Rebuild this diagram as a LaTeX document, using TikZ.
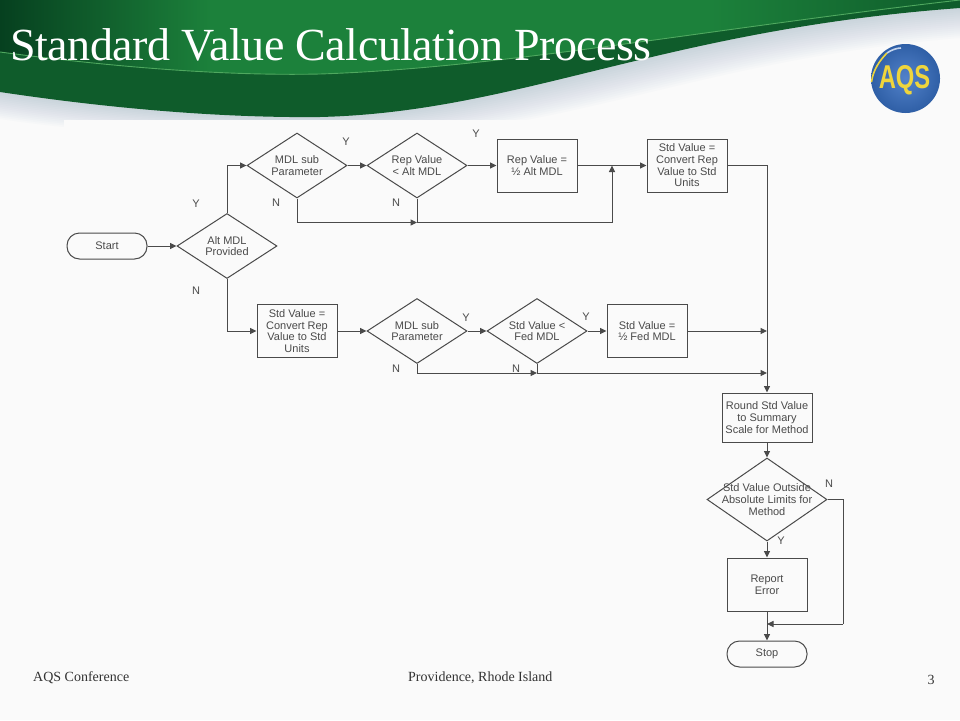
\documentclass[tikz,border=0pt]{standalone}
\usepackage{fontspec}
\setmainfont{Liberation Serif}
\setsansfont{Liberation Sans}
\usetikzlibrary{shapes.geometric,arrows.meta}
\definecolor{swooshdeep}{HTML}{06401F}
\definecolor{swooshdark}{HTML}{0F5C2B}
\definecolor{swooshlight}{HTML}{1C813B}
\definecolor{swooshline}{HTML}{4FA85F}
\definecolor{swooshshadow}{HTML}{8FA6BE}
\definecolor{pagegray}{HTML}{FAFAFA}
\definecolor{flowline}{HTML}{4A4A4A}
\definecolor{logoblue}{HTML}{3F74C4}
\definecolor{logodeep}{HTML}{2F5FA6}
\definecolor{logogold}{HTML}{EFD53C}
\pgfdeclarehorizontalshading{bandshade}{100bp}{color(0bp)=(swooshdeep); color(25bp)=(swooshdeep); color(36bp)=(swooshlight); color(62bp)=(swooshlight); color(75bp)=(swooshdark); color(100bp)=(swooshdark)}
\tikzset{
  flowfont/.style={font=\sffamily\fontsize{11}{11.7}\selectfont,text=flowline},
  decision/.style={draw=flowline,line width=1pt,diamond,aspect=1.54,minimum width=100pt,minimum height=65pt,inner xsep=-15pt,inner ysep=-8pt,align=center,flowfont},
  process/.style={draw=flowline,line width=1pt,rectangle,minimum width=80pt,minimum height=53pt,inner sep=0pt,align=center,flowfont},
  terminal/.style={draw=flowline,line width=1pt,rectangle,rounded corners=12.5pt,minimum width=80pt,minimum height=26pt,inner sep=0pt,flowfont},
  flow/.style={draw=flowline,line width=1pt,-{Triangle[length=6.5pt,width=6pt]}},
  plain/.style={draw=flowline,line width=1pt},
  branch/.style={flowfont,inner sep=0pt},
  footer/.style={inner sep=0pt,font=\fontsize{14}{16}\selectfont,text=black!80},
}
\begin{document}
\begin{tikzpicture}[x=1pt,y=-1pt]
  \useasboundingbox (0,0) rectangle (960,720);
  \fill[pagegray] (0,0) rectangle (960,720);
  % swoosh shadow
  \foreach \off in {2,4,...,30}{
    \fill[swooshshadow,opacity=0.032] (0,92+0.9*\off) .. controls (120,110+0.9*\off) and (230,118+0.6*\off) .. (320+\off,117+0.6*\off)
      .. controls (520+\off,112+\off) and (660+\off,30+\off) .. (960,8+\off) -- (960,0) -- (0,0) -- cycle;
  }
  \fill[pagegray] (64,120) rectangle (880,670);
  % swoosh
  \fill[swooshdark] (0,92) .. controls (120,110) and (230,118) .. (320,117)
    .. controls (520,112) and (660,30) .. (960,8) -- (960,0) -- (0,0) -- cycle;
  \shade[shading=bandshade] (0,52) .. controls (120,68) and (230,76) .. (320,74)
    .. controls (500,68) and (700,30) .. (960,0) -- (0,0) -- cycle;
  \draw[swooshline,line width=0.9pt] (0,52) .. controls (120,68) and (230,76) .. (320,74)
    .. controls (500,68) and (700,30) .. (960,0);
  \node[anchor=base west,inner sep=0pt,text=white] (title) at (10,60) {\fontsize{46}{48}\selectfont\addfontfeature{LetterSpace=-1.0}Standard Value Calculation Process};
  % logo
  \shade[inner color=logoblue!90!white,outer color=logodeep] (905.5,78.5) circle (34.5);
  \draw[logogold,line width=1.6pt] (871.5,82) .. controls (873,70) and (880,60) .. (887,53);
  \draw[white!70!logoblue,line width=1.6pt] (887,53) .. controls (891,50) and (897,48) .. (901,48);
  \node[font=\sffamily\bfseries\fontsize{33}{33}\selectfont,text=logogold,inner sep=0pt,xscale=0.72] (logo) at (904.5,80) {AQS};
  % first row
  \node[terminal] (start) at (107,246) {Start};
  \node[decision] (altmdl) at (227,246) {Alt MDL\\Provided};
  \node[decision] (subtop) at (297,165.5) {MDL sub\\Parameter};
  \node[decision] (repalt) at (417,165.5) {Rep Value\\< Alt MDL};
  \node[process] (rephalf) at (537,165.5) {Rep Value =\\½ Alt MDL};
  \node[process] (stdtop) at (687,165.5) {Std Value =\\Convert Rep\\Value to Std\\Units};
  % second row
  \node[process] (stdlow) at (297,331) {Std Value =\\Convert Rep\\Value to Std\\Units};
  \node[decision] (sublow) at (417,331) {MDL sub\\Parameter};
  \node[decision] (stdfed) at (537,331) {Std Value <\\Fed MDL};
  \node[process] (stdhalf) at (647,331) {Std Value =\\½ Fed MDL};
  % last column
  \node[process,minimum width=90pt,minimum height=49pt] (round) at (767,417.5) {Round Std Value\\to Summary\\Scale for Method};
  \node[decision,minimum width=120pt,minimum height=83pt,aspect=1.45] (limits) at (767,499.5) {Std Value Outside\\Absolute Limits for\\Method};
  \node[process] (report) at (767,584.5) {Report\\Error};
  \node[terminal] (stop) at (767,654) {Stop};
  % junction points
  \coordinate (joinA) at (417,222.5);
  \coordinate (joinB) at (612,222.5);
  \coordinate (joinC) at (612,165.5);
  \coordinate (joinE) at (537,373);
  \coordinate (joinF) at (767,373);
  \coordinate (joinG) at (767,331);
  \coordinate (joinH) at (843,499.5);
  \coordinate (joinI) at (843,624);
  \coordinate (joinJ) at (767,624);
  % connectors
  \draw[flow] (start) -- (altmdl);
  \draw[flow] (altmdl.north) |- (subtop.west);
  \draw[flow] (altmdl.south) |- (stdlow.west);
  \draw[flow] (subtop) -- (repalt);
  \draw[flow] (repalt) -- (rephalf);
  \draw[flow] (rephalf) -- (stdtop);
  \draw[flow] (subtop.south) |- (joinA);
  \draw[plain] (repalt.south) -- (joinA);
  \draw[plain] (joinA) -- (joinB);
  \draw[flow] (joinB) -- (joinC);
  \draw[flow] (stdtop.east) -| (round.north);
  \draw[flow] (stdlow) -- (sublow);
  \draw[flow] (sublow) -- (stdfed);
  \draw[flow] (stdfed) -- (stdhalf);
  \draw[flow] (stdhalf) -- (joinG);
  \draw[flow] (sublow.south) |- (joinE);
  \draw[plain] (stdfed.south) -- (joinE);
  \draw[flow] (joinE) -- (joinF);
  \draw[flow] (round) -- (limits);
  \draw[flow] (limits) -- (report);
  \draw[flow] (report) -- (stop);
  \draw[plain] (limits.east) -- (joinH) -- (joinI);
  \draw[flow] (joinI) -- (joinJ);
  % branch labels
  \node[branch] (y1) at (196,204) {Y};
  \node[branch] (n1) at (196,291) {N};
  \node[branch] (y2) at (346,142) {Y};
  \node[branch] (n2) at (276,203) {N};
  \node[branch] (n3) at (396,203) {N};
  \node[branch] (y3) at (476,134) {Y};
  \node[branch] (y4) at (466,318) {Y};
  \node[branch] (y5) at (586,317) {Y};
  \node[branch] (n4) at (396,369) {N};
  \node[branch] (n5) at (516,369) {N};
  \node[branch] (n6) at (829,484) {N};
  \node[branch] (y6) at (781,541) {Y};
  % footer
  \node[footer,anchor=base west] (confname) at (33,681) {AQS Conference};
  \node[footer,anchor=base west] (place) at (408,681) {Providence, Rhode Island};
  \node[footer,anchor=base] (pagenum) at (931,684) {3};
\end{tikzpicture}
\end{document}
